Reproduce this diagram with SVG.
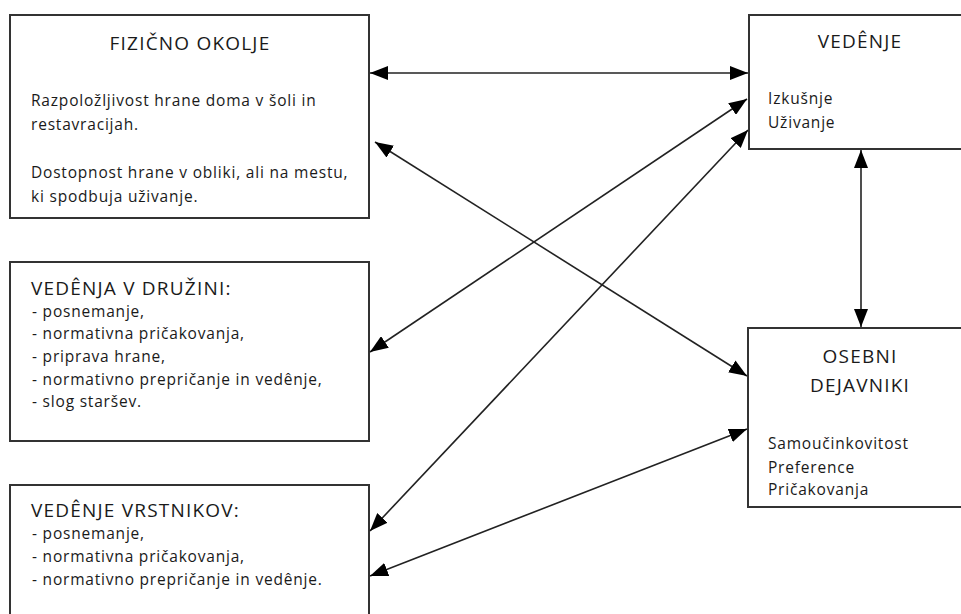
<svg xmlns="http://www.w3.org/2000/svg" width="961" height="614" viewBox="0 0 961 614">
<style>
.box{fill:#fff;stroke:#333;stroke-width:2}
.t{font-family:"Open Sans","Noto Sans",sans-serif;font-size:19px;letter-spacing:1.2px;fill:#1a1a1a}
.b{font-family:"Open Sans","Noto Sans",sans-serif;font-size:15.5px;letter-spacing:0.8px;fill:#1a1a1a}
.c{text-anchor:middle}
.ln{stroke:#222;stroke-width:1.6;fill:none;marker-start:url(#ah);marker-end:url(#ah)}
</style>
<defs>
<marker id="ah" viewBox="0 0 18 14" refX="18" refY="7" markerWidth="18" markerHeight="14" markerUnits="userSpaceOnUse" orient="auto-start-reverse">
<path d="M0,0 L18,7 L0,14 Z" fill="#000"/>
</marker>
</defs>
<rect width="961" height="614" fill="#fff"/>
<g id="fizicno">
<rect class="box" x="10" y="15" width="359" height="203"/>
<text class="t c" x="190" y="50">FIZIČNO OKOLJE</text>
<text class="b" x="31" y="106">Razpoložljivost hrane doma v šoli in</text>
<text class="b" x="31" y="130">restavracijah.</text>
<text class="b" x="31" y="178">Dostopnost hrane v obliki, ali na mestu,</text>
<text class="b" x="31" y="202">ki spodbuja uživanje.</text>
</g>
<g id="druzina">
<rect class="box" x="10" y="262" width="359" height="179"/>
<text class="t" x="31" y="295">VEDÊNJA V DRUŽINI:</text>
<text class="b" x="32" y="317">- posnemanje,</text>
<text class="b" x="32" y="339">- normativna  pričakovanja,</text>
<text class="b" x="32" y="362">- priprava hrane,</text>
<text class="b" x="32" y="385">- normativno prepričanje in vedênje,</text>
<text class="b" x="32" y="407">- slog staršev.</text>
</g>
<g id="vrstniki">
<rect class="box" x="10" y="485" width="359" height="140"/>
<text class="t" x="31" y="517">VEDÊNJE VRSTNIKOV:</text>
<text class="b" x="32" y="539">- posnemanje,</text>
<text class="b" x="32" y="562">- normativna pričakovanja,</text>
<text class="b" x="32" y="585">- normativno prepričanje in vedênje.</text>
</g>
<g id="vedenje">
<rect class="box" x="749" y="15" width="220" height="134"/>
<text class="t c" x="860" y="48">VEDÊNJE</text>
<text class="b" x="768" y="104">Izkušnje</text>
<text class="b" x="768" y="128">Uživanje</text>
</g>
<g id="osebni">
<rect class="box" x="748" y="328" width="221" height="179"/>
<text class="t c" x="860" y="363">OSEBNI</text>
<text class="t c" x="860" y="392">DEJAVNIKI</text>
<text class="b" x="768" y="449">Samoučinkovitost</text>
<text class="b" x="768" y="473">Preference</text>
<text class="b" x="768" y="495">Pričakovanja</text>
</g>
<g id="connectors">
<line class="ln" x1="370" y1="73" x2="748" y2="73"/>
<line class="ln" x1="370" y1="352" x2="747" y2="99"/>
<line class="ln" x1="370" y1="531" x2="748" y2="130"/>
<line class="ln" x1="375" y1="142" x2="747" y2="376"/>
<line class="ln" x1="370" y1="576" x2="747" y2="429"/>
<line class="ln" x1="861" y1="150" x2="861" y2="327"/>
</g>
</svg>
